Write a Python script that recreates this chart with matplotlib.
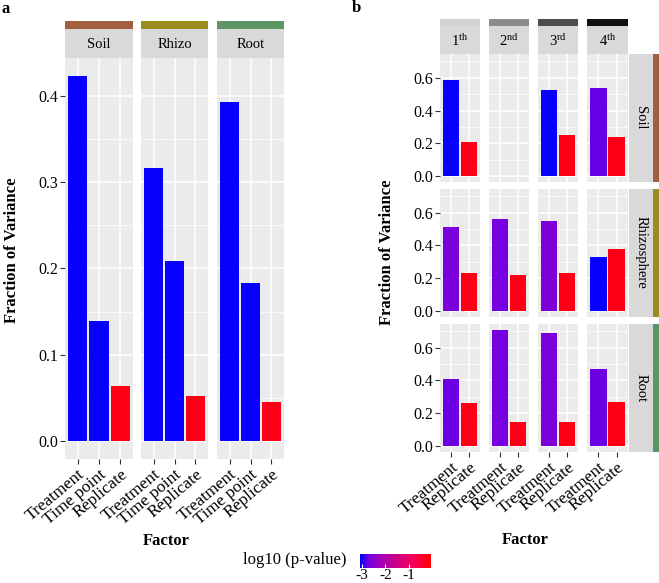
import numpy as np
import matplotlib
matplotlib.use("Agg")
import matplotlib.pyplot as plt
from matplotlib.colors import LinearSegmentedColormap, Normalize
from matplotlib.cm import ScalarMappable

plt.rcParams['font.family'] = ['Liberation Serif', 'DejaVu Serif']
plt.rcParams['mathtext.fontset'] = 'custom'
plt.rcParams['mathtext.rm'] = 'Liberation Serif'
plt.rcParams['mathtext.it'] = 'Liberation Serif:italic'

# ---- panel a data ----
a_facets = ['Soil', 'Rhizo', 'Root']
a_facet_colors = ['#A0603F', '#9A8C1E', '#5A9563']
a_factors = ['Treatment', 'Time point', 'Replicate']
a_soil = [0.423, 0.139, 0.064]
a_rhizo = [0.316, 0.209, 0.052]
a_root = [0.393, 0.183, 0.045]
a_p_soil = [-3.05, -3.05, -0.25]
a_p_rhizo = [-3.05, -3.05, -0.25]
a_p_root = [-3.05, -3.05, -0.25]

# ---- panel b data ----
b_cols = ['1', '2', '3', '4']
b_col_sup = ['th', 'nd', 'rd', 'th']
b_col_colors = ['#D3D3D3', '#8C8C8C', '#4D4D4D', '#111111']
b_rows = ['Soil', 'Rhizosphere', 'Root']
b_row_colors = ['#A0603F', '#9A8C1E', '#5A9563']
b_factors = ['Treatment', 'Replicate']
b_soil_treat = [0.589, np.nan, 0.528, 0.538]
b_soil_rep = [0.210, np.nan, 0.250, 0.241]
b_rhizo_treat = [0.511, 0.561, 0.547, 0.330]
b_rhizo_rep = [0.228, 0.216, 0.228, 0.377]
b_root_treat = [0.410, 0.710, 0.690, 0.470]
b_root_rep = [0.260, 0.148, 0.148, 0.265]
b_p_soil_treat = [-3.05, np.nan, -3.05, -2.75]
b_p_soil_rep = [-0.25, np.nan, -0.25, -0.25]
b_p_rhizo_treat = [-2.62, -2.68, -2.58, -3.05]
b_p_rhizo_rep = [-0.25, -0.25, -0.25, -0.25]
b_p_root_treat = [-2.72, -2.68, -2.62, -2.72]
b_p_root_rep = [-0.25, -0.25, -0.25, -0.25]

pmin, pmax = -3.085, -0.064
cmap = LinearSegmentedColormap.from_list(
    'bluered', [(0, '#0000FF'), (0.125, '#7300E1'), (0.25, '#9A00C3'),
                (0.5, '#CA0088'), (0.75, '#F50059'), (1, '#FF0000')])
norm = Normalize(pmin, pmax)

W, H = 659, 583
fig = plt.figure(figsize=(W / 100, H / 100), dpi=100)


def px_axes(x0, y0, x1, y1):
    return fig.add_axes([x0 / W, 1 - y1 / H, (x1 - x0) / W, (y1 - y0) / H])


def style_panel(ax, ymaj, ymin, ncat, left, bottom, labels):
    ax.set_facecolor('#EBEBEB')
    ax.set_xlim(0.4, ncat + 0.6)
    ax.set_yticks(ymaj)
    ax.set_yticks(ymin, minor=True)
    ax.set_xticks(range(1, ncat + 1))
    ax.grid(which='major', color='white', lw=1.1)
    ax.grid(which='minor', axis='y', color='white', lw=0.5)
    ax.set_axisbelow(True)
    for s in ax.spines.values():
        s.set_visible(False)
    ax.tick_params(which='minor', length=0)
    ax.tick_params(axis='both', color='#333333', length=3.5, width=0.8,
                   labelsize=11.5, labelcolor='black', pad=1.5)
    if left:
        ax.set_yticklabels(['%.1f' % v for v in ymaj])
    else:
        ax.tick_params(axis='y', length=0, labelleft=False)
    if bottom:
        ax.set_xticklabels(labels, rotation=40, ha='right', va='top',
                           rotation_mode='anchor', fontsize=12.5)
        ax.tick_params(axis='x', pad=2)
    else:
        ax.tick_params(axis='x', length=0, labelbottom=False)


def strip_top(x0, x1, yc0, yc1, yg1, color, label):
    sc = px_axes(x0, yc0, x1, yc1)
    sc.set_facecolor(color)
    sc.set_xticks([]); sc.set_yticks([])
    for s in sc.spines.values():
        s.set_visible(False)
    sg = px_axes(x0, yc1, x1, yg1)
    sg.set_facecolor('#D9D9D9')
    sg.set_xticks([]); sg.set_yticks([])
    for s in sg.spines.values():
        s.set_visible(False)
    sg.text(0.5, 0.45, label, ha='center', va='center', fontsize=10.5,
            transform=sg.transAxes)


# ---- panel a ----
a_vals = [a_soil, a_rhizo, a_root]
a_pvals = [a_p_soil, a_p_rhizo, a_p_root]
a_x = [(65, 133), (141, 208), (217, 284)]
ya_max = max(max(v) for v in a_vals)
for i, name in enumerate(a_facets):
    x0, x1 = a_x[i]
    ax = px_axes(x0, 58, x1, 459)
    pos = np.arange(1, len(a_factors) + 1)
    ax.bar(pos, a_vals[i], width=0.9, color=cmap(norm(a_pvals[i])))
    ax.set_ylim(-0.05 * ya_max, 1.05 * ya_max)
    style_panel(ax, [0, 0.1, 0.2, 0.3, 0.4], [0.05, 0.15, 0.25, 0.35],
                len(a_factors), i == 0, True, a_factors)
    strip_top(x0, x1, 21, 29, 57.5, a_facet_colors[i], name)

fig.text(2 / W, 1 - 9 / H, 'a', fontsize=12, fontweight='bold', va='center')
fig.text(166 / W, 1 - 541 / H, 'Factor', fontsize=12, fontweight='bold',
         ha='center', va='center')
fig.text(12 / W, 1 - 250 / H, 'Fraction of Variance', fontsize=12,
         fontweight='bold', rotation=90, ha='center', va='center')

# ---- panel b ----
b_treat = [b_soil_treat, b_rhizo_treat, b_root_treat]
b_rep = [b_soil_rep, b_rhizo_rep, b_root_rep]
b_pt = [b_p_soil_treat, b_p_rhizo_treat, b_p_root_treat]
b_pr = [b_p_soil_rep, b_p_rhizo_rep, b_p_root_rep]
b_x = [(440, 480), (489, 529), (538, 578), (587, 628)]
b_y = [(54, 182), (189, 316.5), (324, 451.5)]
yb_max = np.nanmax(np.array(b_treat + b_rep))
for r in range(len(b_rows)):
    y0, y1 = b_y[r]
    for c in range(len(b_cols)):
        x0, x1 = b_x[c]
        ax = px_axes(x0, y0, x1, y1)
        vals = [b_treat[r][c], b_rep[r][c]]
        ps = [b_pt[r][c], b_pr[r][c]]
        if not np.isnan(vals[0]):
            ax.bar([1, 2], vals, width=0.9, color=cmap(norm(ps)))
        ax.set_ylim(-0.05 * yb_max, 1.05 * yb_max)
        style_panel(ax, [0, 0.2, 0.4, 0.6], [0.1, 0.3, 0.5, 0.7],
                    len(b_factors), c == 0, r == len(b_rows) - 1, b_factors)
    # right strip
    sg = px_axes(629, y0, 653, y1)
    sg.set_facecolor('#D9D9D9')
    sg.set_xticks([]); sg.set_yticks([])
    for s in sg.spines.values():
        s.set_visible(False)
    sg.text(0.5, 0.5, b_rows[r], rotation=-90, ha='center', va='center',
            fontsize=10.5, transform=sg.transAxes)
    sc = px_axes(653, y0, 659, y1)
    sc.set_facecolor(b_row_colors[r])
    sc.set_xticks([]); sc.set_yticks([])
    for s in sc.spines.values():
        s.set_visible(False)

for c in range(len(b_cols)):
    x0, x1 = b_x[c]
    lab = r'$\mathrm{%s^{%s}}$' % (b_cols[c], b_col_sup[c])
    strip_top(x0, x1, 19, 26, 54, b_col_colors[c], lab)

fig.text(352 / W, 1 - 8 / H, 'b', fontsize=12, fontweight='bold', va='center')
fig.text(525 / W, 1 - 540 / H, 'Factor', fontsize=12, fontweight='bold',
         ha='center', va='center')
fig.text(387 / W, 1 - 252 / H, 'Fraction of Variance', fontsize=12,
         fontweight='bold', rotation=90, ha='center', va='center')

# ---- colour legend ----
cax = px_axes(360, 554, 431, 568)
cb = fig.colorbar(ScalarMappable(norm=norm, cmap=cmap), cax=cax,
                  orientation='horizontal')
cb.outline.set_visible(False)
cb.set_ticks([-3, -2, -1])
cb.set_ticklabels(['-3', '-2', '-1'])
cax.tick_params(color='white', direction='in', length=3, width=0.8,
                labelsize=11, pad=0.5)
fig.text(295 / W, 1 - 560 / H, 'log10 (p-value)', fontsize=12,
         ha='center', va='center')

fig.savefig('out.png', dpi=100)
